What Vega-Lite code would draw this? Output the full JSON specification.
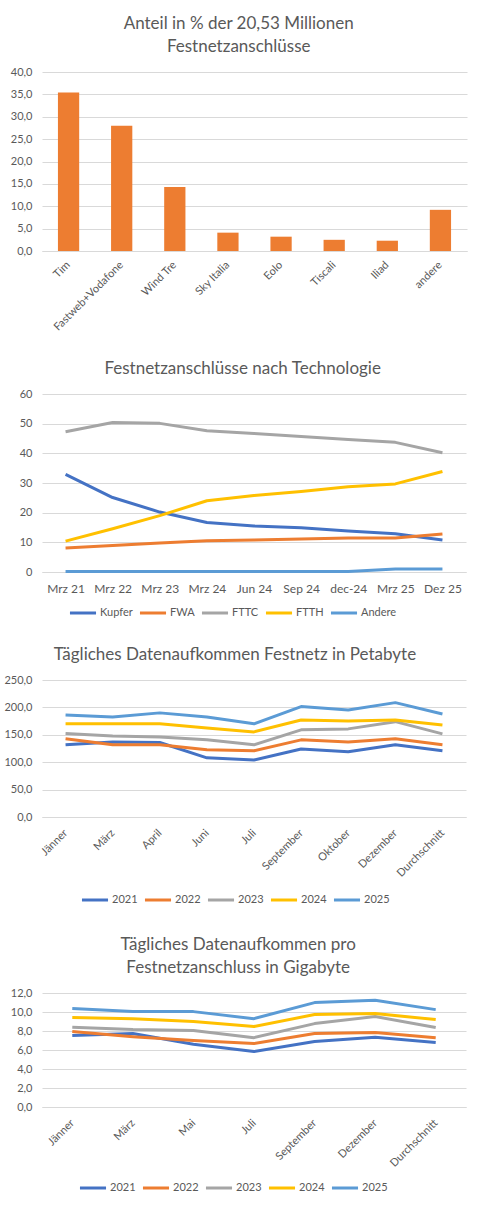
{
  "$schema": "https://vega.github.io/schema/vega-lite/v6.json",
  "background": "white",
  "padding": {"left": 3, "top": 15, "right": 5, "bottom": 5},
  "spacing": 27,
  "config": {
    "font": "Lato",
    "locale": {"number": {"decimal": ",", "thousands": ".", "grouping": [3], "currency": ["", " €"]}},
    "view": {"stroke": null},
    "title": {"fontSize": 17, "fontWeight": "normal", "color": "#595959", "frame": "bounds", "anchor": "middle", "offset": 10, "lineHeight": 23},
    "axis": {"labelColor": "#595959", "labelFontSize": 11, "ticks": false, "domainColor": "#d9d9d9", "gridColor": "#d9d9d9", "labelPadding": 8},
    "axisY": {"domain": false, "labelPadding": 10},
    "axisX": {"grid": false},
    "legend": {"orient": "none", "direction": "horizontal", "labelFontSize": 11, "labelColor": "#595959", "symbolType": "stroke", "symbolStrokeWidth": 3, "symbolSize": 680, "columnPadding": 0, "labelOffset": 2}
  },
  "datasets": {
    "shares": [
      {"Anbieter": "Tim", "Anteil": 35.4},
      {"Anbieter": "Fastweb+Vodafone", "Anteil": 28.0},
      {"Anbieter": "Wind Tre", "Anteil": 14.3},
      {"Anbieter": "Sky Italia", "Anteil": 4.1},
      {"Anbieter": "Eolo", "Anteil": 3.2},
      {"Anbieter": "Tiscali", "Anteil": 2.5},
      {"Anbieter": "Iliad", "Anteil": 2.3},
      {"Anbieter": "andere", "Anteil": 9.2}
    ],
    "tech": [
      {"Zeit": "Mrz 21", "Technologie": "Kupfer", "Wert": 32.9},
      {"Zeit": "Mrz 22", "Technologie": "Kupfer", "Wert": 25.1},
      {"Zeit": "Mrz 23", "Technologie": "Kupfer", "Wert": 20.2},
      {"Zeit": "Mrz 24", "Technologie": "Kupfer", "Wert": 16.7},
      {"Zeit": "Jun 24", "Technologie": "Kupfer", "Wert": 15.5},
      {"Zeit": "Sep 24", "Technologie": "Kupfer", "Wert": 14.9},
      {"Zeit": "dec-24", "Technologie": "Kupfer", "Wert": 13.8},
      {"Zeit": "Mrz 25", "Technologie": "Kupfer", "Wert": 12.9},
      {"Zeit": "Dez 25", "Technologie": "Kupfer", "Wert": 10.8},
      {"Zeit": "Mrz 21", "Technologie": "FWA", "Wert": 8.1},
      {"Zeit": "Mrz 22", "Technologie": "FWA", "Wert": 8.9},
      {"Zeit": "Mrz 23", "Technologie": "FWA", "Wert": 9.8},
      {"Zeit": "Mrz 24", "Technologie": "FWA", "Wert": 10.5},
      {"Zeit": "Jun 24", "Technologie": "FWA", "Wert": 10.8},
      {"Zeit": "Sep 24", "Technologie": "FWA", "Wert": 11.1},
      {"Zeit": "dec-24", "Technologie": "FWA", "Wert": 11.5},
      {"Zeit": "Mrz 25", "Technologie": "FWA", "Wert": 11.5},
      {"Zeit": "Dez 25", "Technologie": "FWA", "Wert": 12.8},
      {"Zeit": "Mrz 21", "Technologie": "FTTC", "Wert": 47.3},
      {"Zeit": "Mrz 22", "Technologie": "FTTC", "Wert": 50.4},
      {"Zeit": "Mrz 23", "Technologie": "FTTC", "Wert": 50.1},
      {"Zeit": "Mrz 24", "Technologie": "FTTC", "Wert": 47.6},
      {"Zeit": "Jun 24", "Technologie": "FTTC", "Wert": 46.7},
      {"Zeit": "Sep 24", "Technologie": "FTTC", "Wert": 45.7},
      {"Zeit": "dec-24", "Technologie": "FTTC", "Wert": 44.7},
      {"Zeit": "Mrz 25", "Technologie": "FTTC", "Wert": 43.7},
      {"Zeit": "Dez 25", "Technologie": "FTTC", "Wert": 40.2},
      {"Zeit": "Mrz 21", "Technologie": "FTTH", "Wert": 10.4},
      {"Zeit": "Mrz 22", "Technologie": "FTTH", "Wert": 14.6},
      {"Zeit": "Mrz 23", "Technologie": "FTTH", "Wert": 19.0},
      {"Zeit": "Mrz 24", "Technologie": "FTTH", "Wert": 24.0},
      {"Zeit": "Jun 24", "Technologie": "FTTH", "Wert": 25.8},
      {"Zeit": "Sep 24", "Technologie": "FTTH", "Wert": 27.1},
      {"Zeit": "dec-24", "Technologie": "FTTH", "Wert": 28.7},
      {"Zeit": "Mrz 25", "Technologie": "FTTH", "Wert": 29.7},
      {"Zeit": "Dez 25", "Technologie": "FTTH", "Wert": 33.9},
      {"Zeit": "Mrz 21", "Technologie": "Andere", "Wert": 0.2},
      {"Zeit": "Mrz 22", "Technologie": "Andere", "Wert": 0.2},
      {"Zeit": "Mrz 23", "Technologie": "Andere", "Wert": 0.2},
      {"Zeit": "Mrz 24", "Technologie": "Andere", "Wert": 0.2},
      {"Zeit": "Jun 24", "Technologie": "Andere", "Wert": 0.2},
      {"Zeit": "Sep 24", "Technologie": "Andere", "Wert": 0.2},
      {"Zeit": "dec-24", "Technologie": "Andere", "Wert": 0.2},
      {"Zeit": "Mrz 25", "Technologie": "Andere", "Wert": 1.0},
      {"Zeit": "Dez 25", "Technologie": "Andere", "Wert": 1.0}
    ],
    "peta": [
      {"Monat": "Jänner", "Jahr": "2021", "PB": 131.7},
      {"Monat": "März", "Jahr": "2021", "PB": 137.0},
      {"Monat": "April", "Jahr": "2021", "PB": 136.0},
      {"Monat": "Juni", "Jahr": "2021", "PB": 108.0},
      {"Monat": "Juli", "Jahr": "2021", "PB": 104.0},
      {"Monat": "September", "Jahr": "2021", "PB": 124.0},
      {"Monat": "Oktober", "Jahr": "2021", "PB": 119.0},
      {"Monat": "Dezember", "Jahr": "2021", "PB": 131.7},
      {"Monat": "Durchschnitt", "Jahr": "2021", "PB": 120.8},
      {"Monat": "Jänner", "Jahr": "2022", "PB": 142.6},
      {"Monat": "März", "Jahr": "2022", "PB": 132.0},
      {"Monat": "April", "Jahr": "2022", "PB": 132.0},
      {"Monat": "Juni", "Jahr": "2022", "PB": 122.6},
      {"Monat": "Juli", "Jahr": "2022", "PB": 120.8},
      {"Monat": "September", "Jahr": "2022", "PB": 140.8},
      {"Monat": "Oktober", "Jahr": "2022", "PB": 137.0},
      {"Monat": "Dezember", "Jahr": "2022", "PB": 142.6},
      {"Monat": "Durchschnitt", "Jahr": "2022", "PB": 131.7},
      {"Monat": "Jänner", "Jahr": "2023", "PB": 152.3},
      {"Monat": "März", "Jahr": "2023", "PB": 148.0},
      {"Monat": "April", "Jahr": "2023", "PB": 146.0},
      {"Monat": "Juni", "Jahr": "2023", "PB": 140.8},
      {"Monat": "Juli", "Jahr": "2023", "PB": 131.7},
      {"Monat": "September", "Jahr": "2023", "PB": 159.0},
      {"Monat": "Oktober", "Jahr": "2023", "PB": 160.8},
      {"Monat": "Dezember", "Jahr": "2023", "PB": 174.0},
      {"Monat": "Durchschnitt", "Jahr": "2023", "PB": 151.7},
      {"Monat": "Jänner", "Jahr": "2024", "PB": 170.0},
      {"Monat": "März", "Jahr": "2024", "PB": 170.0},
      {"Monat": "April", "Jahr": "2024", "PB": 170.0},
      {"Monat": "Juni", "Jahr": "2024", "PB": 162.6},
      {"Monat": "Juli", "Jahr": "2024", "PB": 155.3},
      {"Monat": "September", "Jahr": "2024", "PB": 177.0},
      {"Monat": "Oktober", "Jahr": "2024", "PB": 175.4},
      {"Monat": "Dezember", "Jahr": "2024", "PB": 177.0},
      {"Monat": "Durchschnitt", "Jahr": "2024", "PB": 168.0},
      {"Monat": "Jänner", "Jahr": "2025", "PB": 186.3},
      {"Monat": "März", "Jahr": "2025", "PB": 182.6},
      {"Monat": "April", "Jahr": "2025", "PB": 190.0},
      {"Monat": "Juni", "Jahr": "2025", "PB": 182.6},
      {"Monat": "Juli", "Jahr": "2025", "PB": 170.0},
      {"Monat": "September", "Jahr": "2025", "PB": 201.5},
      {"Monat": "Oktober", "Jahr": "2025", "PB": 195.4},
      {"Monat": "Dezember", "Jahr": "2025", "PB": 208.7},
      {"Monat": "Durchschnitt", "Jahr": "2025", "PB": 188.0}
    ],
    "giga": [
      {"Monat": "Jänner", "Jahr": "2021", "GB": 7.52},
      {"Monat": "März", "Jahr": "2021", "GB": 7.73},
      {"Monat": "Mai", "Jahr": "2021", "GB": 6.6},
      {"Monat": "Juli", "Jahr": "2021", "GB": 5.84},
      {"Monat": "September", "Jahr": "2021", "GB": 6.9},
      {"Monat": "Dezember", "Jahr": "2021", "GB": 7.35},
      {"Monat": "Durchschnitt", "Jahr": "2021", "GB": 6.8},
      {"Monat": "Jänner", "Jahr": "2022", "GB": 7.94},
      {"Monat": "März", "Jahr": "2022", "GB": 7.4},
      {"Monat": "Mai", "Jahr": "2022", "GB": 7.0},
      {"Monat": "Juli", "Jahr": "2022", "GB": 6.68},
      {"Monat": "September", "Jahr": "2022", "GB": 7.73},
      {"Monat": "Dezember", "Jahr": "2022", "GB": 7.84},
      {"Monat": "Durchschnitt", "Jahr": "2022", "GB": 7.3},
      {"Monat": "Jänner", "Jahr": "2023", "GB": 8.4},
      {"Monat": "März", "Jahr": "2023", "GB": 8.15},
      {"Monat": "Mai", "Jahr": "2023", "GB": 8.05},
      {"Monat": "Juli", "Jahr": "2023", "GB": 7.3},
      {"Monat": "September", "Jahr": "2023", "GB": 8.78},
      {"Monat": "Dezember", "Jahr": "2023", "GB": 9.52},
      {"Monat": "Durchschnitt", "Jahr": "2023", "GB": 8.36},
      {"Monat": "Jänner", "Jahr": "2024", "GB": 9.41},
      {"Monat": "März", "Jahr": "2024", "GB": 9.3},
      {"Monat": "Mai", "Jahr": "2024", "GB": 9.0},
      {"Monat": "Juli", "Jahr": "2024", "GB": 8.47},
      {"Monat": "September", "Jahr": "2024", "GB": 9.73},
      {"Monat": "Dezember", "Jahr": "2024", "GB": 9.83},
      {"Monat": "Durchschnitt", "Jahr": "2024", "GB": 9.2},
      {"Monat": "Jänner", "Jahr": "2025", "GB": 10.36},
      {"Monat": "März", "Jahr": "2025", "GB": 10.04},
      {"Monat": "Mai", "Jahr": "2025", "GB": 10.04},
      {"Monat": "Juli", "Jahr": "2025", "GB": 9.3},
      {"Monat": "September", "Jahr": "2025", "GB": 10.99},
      {"Monat": "Dezember", "Jahr": "2025", "GB": 11.23},
      {"Monat": "Durchschnitt", "Jahr": "2025", "GB": 10.25}
    ]
  },
  "vconcat": [
    {
      "title": {"text": ["Anteil in % der 20,53 Millionen", "Festnetzanschlüsse"]},
      "width": 425,
      "height": 179,
      "data": {"name": "shares"},
      "mark": {"type": "bar", "color": "#ED7D31"},
      "encoding": {
        "x": {"field": "Anbieter", "type": "nominal", "sort": null, "title": null,
              "scale": {"paddingInner": 0.6, "paddingOuter": 0.3},
              "axis": {"labelAngle": -45, "labelAlign": "right", "labelBaseline": "middle", "labelPadding": 12}},
        "y": {"field": "Anteil", "type": "quantitative", "title": null,
              "scale": {"domain": [0, 40]},
              "axis": {"values": [0, 5, 10, 15, 20, 25, 30, 35, 40], "format": ".1f"}}
      }
    },
    {
      "title": {"text": "Festnetzanschlüsse nach Technologie"},
      "width": 424,
      "height": 178,
      "data": {"name": "tech"},
      "mark": {"type": "line", "strokeWidth": 3, "strokeJoin": "round"},
      "encoding": {
        "x": {"field": "Zeit", "type": "ordinal", "title": null,
              "sort": ["Mrz 21", "Mrz 22", "Mrz 23", "Mrz 24", "Jun 24", "Sep 24", "dec-24", "Mrz 25", "Dez 25"],
              "scale": {"type": "point", "padding": 0.5},
              "axis": {"labelAngle": 0, "labelFontSize": 12, "labelPadding": 11}},
        "y": {"field": "Wert", "type": "quantitative", "title": null,
              "scale": {"domain": [0, 60]},
              "axis": {"values": [0, 10, 20, 30, 40, 50, 60], "format": "d"}},
        "color": {"field": "Technologie", "type": "nominal",
                  "scale": {"domain": ["Kupfer", "FWA", "FTTC", "FTTH", "Andere"], "range": ["#4472C4", "#ED7D31", "#A5A5A5", "#FFC000", "#5B9BD5"]},
                  "legend": {"title": null, "legendX": 26, "legendY": 204}}
      }
    },
    {
      "title": {"text": "Tägliches Datenaufkommen Festnetz in Petabyte"},
      "width": 424,
      "height": 137,
      "data": {"name": "peta"},
      "mark": {"type": "line", "strokeWidth": 3, "strokeJoin": "round"},
      "encoding": {
        "x": {"field": "Monat", "type": "ordinal", "title": null,
              "sort": ["Jänner", "März", "April", "Juni", "Juli", "September", "Oktober", "Dezember", "Durchschnitt"],
              "scale": {"type": "point", "padding": 0.5},
              "axis": {"labelAngle": -45, "labelAlign": "right", "labelBaseline": "middle", "labelPadding": 14}},
        "y": {"field": "PB", "type": "quantitative", "title": null,
              "scale": {"domain": [0, 250]},
              "axis": {"values": [0, 50, 100, 150, 200, 250], "format": ".1f"}},
        "color": {"field": "Jahr", "type": "nominal",
                  "scale": {"domain": ["2021", "2022", "2023", "2024", "2025"], "range": ["#4472C4", "#ED7D31", "#A5A5A5", "#FFC000", "#5B9BD5"]},
                  "legend": {"title": null, "legendX": 35, "legendY": 202, "padding": 3}}
      }
    },
    {
      "title": {"text": ["Tägliches Datenaufkommen pro", "Festnetzanschluss in Gigabyte"]},
      "width": 424,
      "height": 114,
      "data": {"name": "giga"},
      "mark": {"type": "line", "strokeWidth": 3, "strokeJoin": "round"},
      "encoding": {
        "x": {"field": "Monat", "type": "ordinal", "title": null,
              "sort": ["Jänner", "März", "Mai", "Juli", "September", "Dezember", "Durchschnitt"],
              "scale": {"type": "point", "padding": 0.5},
              "axis": {"labelAngle": -45, "labelAlign": "right", "labelBaseline": "middle", "labelPadding": 14}},
        "y": {"field": "GB", "type": "quantitative", "title": null,
              "scale": {"domain": [0, 12]},
              "axis": {"values": [0, 2, 4, 6, 8, 10, 12], "format": ".1f"}},
        "color": {"field": "Jahr", "type": "nominal",
                  "scale": {"domain": ["2021", "2022", "2023", "2024", "2025"], "range": ["#4472C4", "#ED7D31", "#A5A5A5", "#FFC000", "#5B9BD5"]},
                  "legend": {"title": null, "legendX": 36, "legendY": 180}}
      }
    }
  ],
  "resolve": {"scale": {"color": "independent"}, "legend": {"color": "independent"}}
}
